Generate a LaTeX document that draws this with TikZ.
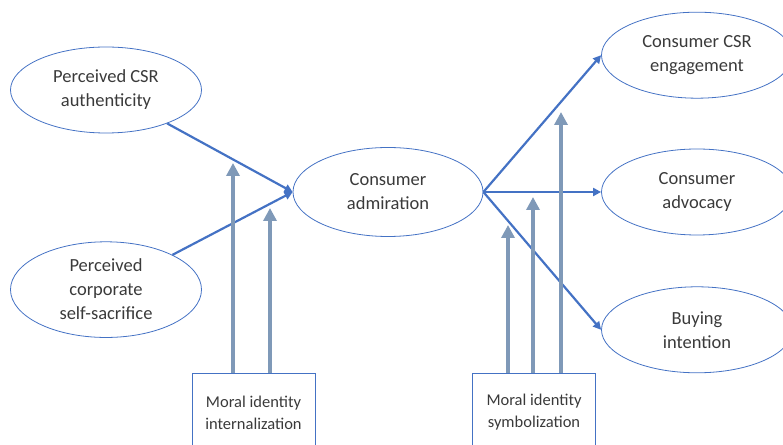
\documentclass[tikz,border=0pt]{standalone}
\usepackage{fontspec}
\setmainfont{Carlito}
\usepackage{xcolor}
\usepackage{tikz}
\usetikzlibrary{positioning}
\usetikzlibrary{arrows.meta}
\usetikzlibrary{shapes.geometric}
\definecolor{pathblue}{HTML}{4472C4}
\definecolor{modgray}{HTML}{7F99B8}
\definecolor{textgray}{HTML}{3A3A3A}
\tikzset{
  construct/.style={
    ellipse, draw=pathblue, line width=0.8pt, text=textgray,
    minimum width=191pt, minimum height=86pt, align=center,
    font=\fontsize{18.5}{24}\selectfont,
  },
  moderator/.style={
    rectangle, draw=pathblue, line width=0.8pt, text=textgray,
    minimum width=123pt, minimum height=78pt, align=center,
    font=\fontsize{16.5}{22}\selectfont,
  },
  path edge/.style={
    draw=pathblue, line width=2.2pt,
    -{Triangle[length=8pt,width=8pt]},
  },
  mod edge/.style={
    draw=modgray, line width=4pt,
    -{Triangle[length=13pt,width=13pt]},
  },
}

\begin{document}
\begin{tikzpicture}[x=1pt, y=1pt]

  \useasboundingbox (0,0) rectangle (783,444);

  % Define nodes
  \node[construct] (authenticity) at (106,354) {Perceived CSR\\authenticity};
  \node[construct, below=108pt of authenticity] (sacrifice) {Perceived\\corporate\\self-sacrifice};

  \node[construct, minimum width=190pt, minimum height=89pt] (admiration) at (388,252) {Consumer\\admiration};

  \node[construct] (advocacy) at (697,252) {Consumer\\advocacy};
  \node[construct, above=50pt of advocacy] (engagement) {Consumer CSR\\engagement};
  \node[construct, below=51pt of advocacy] (buying) {Buying\\intention};

  \node[moderator, anchor=north] (internal) at (253.5,71) {Moral identity\\internalization};
  \node[moderator, anchor=north] (symbol) at (534,71) {Moral identity\\symbolization};

  % Arrow tips of the moderators
  \coordinate (internal_1) at (233,281);
  \coordinate (internal_2) at (270,236);
  \coordinate (symbol_1) at (508,219);
  \coordinate (symbol_2) at (533,247);
  \coordinate (symbol_3) at (561,332);

  % Connect nodes
  \draw[path edge] (authenticity) -- (admiration.west);
  \draw[path edge] (sacrifice) -- (admiration.west);

  \draw[path edge] (admiration.east) -- (engagement.west);
  \draw[path edge] (admiration.east) -- (advocacy.west);
  \draw[path edge] (admiration.east) -- (buying.west);

  % Moderating paths
  \draw[mod edge] (internal.north -| internal_1) -- (internal_1);
  \draw[mod edge] (internal.north -| internal_2) -- (internal_2);
  \draw[mod edge] (symbol.north -| symbol_1) -- (symbol_1);
  \draw[mod edge] (symbol.north -| symbol_2) -- (symbol_2);
  \draw[mod edge] (symbol.north -| symbol_3) -- (symbol_3);

\end{tikzpicture}
\end{document}
